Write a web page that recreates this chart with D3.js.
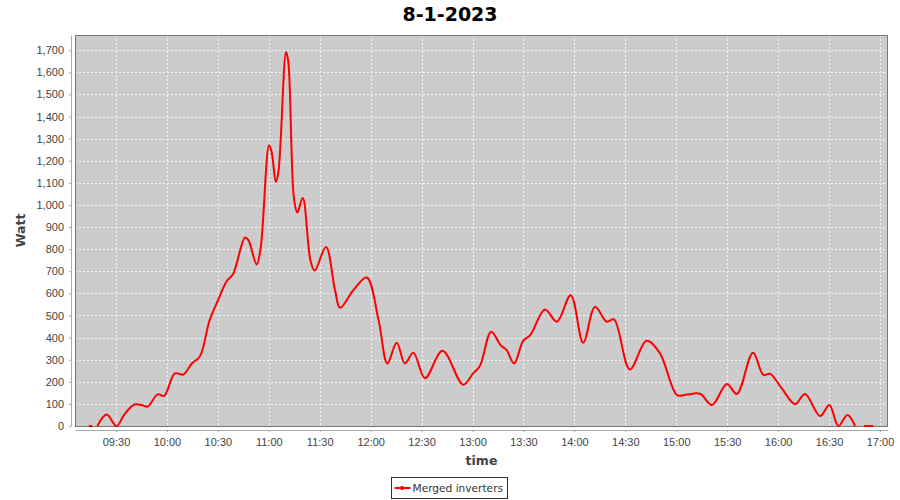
<!DOCTYPE html>
<html lang="en">

<head>
    <meta charset="UTF-8">
    <title>8-1-2023</title>
    <script src="https://d3js.org/d3.v7.min.js"></script>
    <style>
        body { margin: 0; background: #fff; }
        svg { display: block; font-family: "DejaVu Sans", sans-serif; }
    </style>
</head>

<body>
    <div id="my_dataviz"></div>
</body>
<script>
    // readings of the day, null = no data (gap in the line)
    var times = ["09:14:00", "09:16:00", "09:17:00", "09:19:00", "09:24:30", "09:30:20", "09:35:00", "09:40:50", "09:45:00", "09:48:40",
        "09:54:30", "09:58:20", "10:04:40", "10:09:40", "10:14:40", "10:19:30", "10:25:00", "10:30:10", "10:35:10", "10:39:00",
        "10:46:00", "10:48:00", "10:52:50", "10:55:10", "11:00:10", "11:01:40", "11:04:10", "11:05:40", "11:10:10", "11:11:30",
        "11:14:50", "11:16:50", "11:20:00", "11:24:30", "11:27:00", "11:33:40", "11:39:00", "11:42:00", "11:49:50", "11:57:40",
        "12:04:40", "12:09:50", "12:15:20", "12:20:10", "12:25:10", "12:32:00", "12:42:20", "12:54:30", "13:00:20", "13:04:20",
        "13:11:00", "13:16:30", "13:20:00", "13:24:30", "13:29:50", "13:34:00", "13:42:40", "13:49:40", "13:57:50", "14:05:10",
        "14:12:10", "14:19:00", "14:23:20", "14:32:40", "14:42:30", "14:50:20", "15:00:30", "15:06:10", "15:14:00", "15:21:00",
        "15:29:50", "15:35:40", "15:45:10", "15:51:20", "15:55:20", "16:02:10", "16:10:00", "16:15:50", "16:24:40", "16:30:10",
        "16:35:30", "16:40:50", "16:45:20", "16:48:00", "16:50:30", "16:56:00"];
    var watts = [0, 0, null, 0, 52, 0, 53, 97, 95, 88,
        143, 136, 238, 233, 283, 316, 475, 570, 655, 688,
        853, 841, 731, 803, 1270, 1240, 1104, 1150, 1692, 1647,
        1029, 966, 1032, 750, 703, 810, 615, 535, 615, 672,
        479, 283, 377, 283, 331, 216, 340, 187, 238, 272,
        426, 366, 344, 283, 385, 411, 527, 472, 592, 377,
        539, 472, 482, 256, 386, 330, 140, 142, 146, 95,
        190, 145, 331, 231, 236, 170, 99, 145, 45, 95,
        0, 50, 0, null, 0, 0];

    var yTicks = d3.range(0, 1800, 100);
    var xStart = "09:05:51", xEnd = "17:04:43";
    var yMax = 1769;

    var parse = d3.timeParse("%Y-%m-%d %H:%M:%S");
    function t(s) { return parse("2023-08-01 " + s); }

    var data = times.map(function(s, i) { return {t: t(s), w: watts[i]}; });

    var margin = {top: 35, right: 12, bottom: 74, left: 75},
        width = 900 - margin.left - margin.right,
        height = 500 - margin.top - margin.bottom;

    var root = d3.select("#my_dataviz")
        .append("svg")
        .attr("width", 900)
        .attr("height", 500);

    // title
    root.append("text")
        .attr("x", 450)
        .attr("y", 21)
        .attr("text-anchor", "middle")
        .style("font-size", "19px")
        .style("font-weight", "bold")
        .text("8-1-2023");

    var svg = root.append("g")
        .attr("transform", "translate(" + margin.left + "," + margin.top + ")");

    var x = d3.scaleTime()
        .domain([t(xStart), t(xEnd)])
        .range([0, width]);

    var y = d3.scaleLinear()
        .domain([0, yMax])
        .range([height, 0]);

    var xTicks = x.ticks(d3.timeMinute.every(30));

    // plot background
    svg.append("rect")
        .attr("width", width)
        .attr("height", height)
        .attr("fill", "#cccccc");

    // grid
    svg.selectAll("xgrid")
        .data(xTicks)
        .enter()
        .append("line")
        .attr("x1", function(d) { return Math.round(x(d)) + 0.5; })
        .attr("x2", function(d) { return Math.round(x(d)) + 0.5; })
        .attr("y1", 0)
        .attr("y2", height)
        .attr("stroke", "#f4f4f4")
        .attr("stroke-dasharray", "2,2");

    svg.selectAll("ygrid")
        .data(yTicks)
        .enter()
        .append("line")
        .attr("x1", 0)
        .attr("x2", width)
        .attr("y1", function(d) { return Math.round(y(d)) + 0.5; })
        .attr("y2", function(d) { return Math.round(y(d)) + 0.5; })
        .attr("stroke", "#f4f4f4")
        .attr("stroke-dasharray", "2,2");

    // outline
    svg.append("rect")
        .attr("x", 0.5)
        .attr("y", 0.5)
        .attr("width", width - 1)
        .attr("height", height)
        .attr("fill", "none")
        .attr("stroke", "#777777");

    // the line
    var line = d3.line()
        .defined(function(d) { return d.w !== null; })
        .curve(d3.curveCatmullRom.alpha(0.5))
        .x(function(d) { return x(d.t); })
        .y(function(d) { return y(d.w); });

    svg.append("path")
        .datum(data)
        .attr("fill", "none")
        .attr("stroke", "#ff0000")
        .attr("stroke-width", 2)
        .attr("d", line);

    // Y axis
    var yAxis = svg.append("g")
        .attr("transform", "translate(-4,0)")
        .call(d3.axisLeft(y).tickValues(yTicks).tickFormat(d3.format(",")).tickSize(2).tickSizeOuter(0).tickPadding(5));
    yAxis.selectAll("text")
        .style("font-size", "11px")
        .attr("fill", "#444");

    // X axis
    var xAxis = svg.append("g")
        .attr("transform", "translate(0," + (height + 4) + ")")
        .call(d3.axisBottom(x).tickValues(xTicks).tickFormat(d3.timeFormat("%H:%M")).tickSize(2).tickSizeOuter(0).tickPadding(6));
    xAxis.selectAll("text")
        .style("font-size", "11px")
        .attr("fill", "#444");

    [yAxis, xAxis].forEach(function(a) {
        a.select(".domain").attr("stroke", "#aaaaaa");
        a.selectAll(".tick line").attr("stroke", "#aaaaaa");
    });

    // axis labels
    svg.append("text")
        .attr("x", width / 2)
        .attr("y", height + 39)
        .attr("text-anchor", "middle")
        .style("font-size", "12.5px")
        .style("font-weight", "bold")
        .attr("fill", "#444")
        .text("time");

    svg.append("text")
        .attr("transform", "translate(-50," + (height / 2) + ")rotate(-90)")
        .attr("text-anchor", "middle")
        .style("font-size", "12.5px")
        .style("font-weight", "bold")
        .attr("fill", "#444")
        .text("Watt");

    // legend
    var lg = root.append("g")
        .attr("transform", "translate(391.5,477.5)");
    lg.append("rect")
        .attr("width", 116)
        .attr("height", 21)
        .attr("fill", "#fff")
        .attr("stroke", "#333");
    lg.append("line")
        .attr("x1", 3)
        .attr("x2", 19)
        .attr("y1", 10.5)
        .attr("y2", 10.5)
        .attr("stroke", "#ff0000")
        .attr("stroke-width", 2);
    lg.append("rect")
        .attr("x", 9)
        .attr("y", 8.5)
        .attr("width", 3)
        .attr("height", 4)
        .attr("fill", "#ff0000");
    lg.append("text")
        .attr("x", 21)
        .attr("y", 14.5)
        .style("font-size", "10.6px")
        .attr("fill", "#333")
        .text("Merged inverters");

</script>

</html>
